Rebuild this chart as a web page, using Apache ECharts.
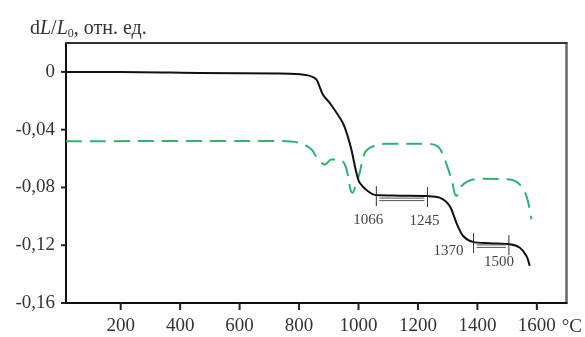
<!DOCTYPE html>
<html>
<head>
<meta charset="utf-8">
<script src="https://cdn.jsdelivr.net/npm/echarts@6/dist/echarts.min.js"></script>
<style>
  html, body { margin: 0; padding: 0; background: #fff; }
  #chart { width: 585px; height: 337px; }
</style>
</head>
<body>
<div id="chart"></div>
<script>
// temperature, °C / relative elongation dL/L0 (black solid curve)
const blackT = [16, 198, 467, 735, 803, 830, 845, 859, 881, 903, 947, 964, 976, 993, 1004, 1032, 1060, 1139, 1229, 1273, 1307, 1329, 1352, 1385, 1441, 1509, 1542, 1565, 1576];
const blackV = [0, 0, -0.0007, -0.0012, -0.0017, -0.0024, -0.0035, -0.0055, -0.016, -0.0214, -0.0352, -0.0448, -0.0538, -0.0699, -0.0768, -0.0826, -0.0853, -0.0857, -0.086, -0.0871, -0.0929, -0.1043, -0.1136, -0.1177, -0.1186, -0.1193, -0.1216, -0.1274, -0.1343];

// green dashed curve
const greenT = [16, 735, 803, 842, 864, 887, 909, 937, 954, 965, 973, 980, 991, 1004, 1021, 1049, 1094, 1229, 1268, 1290, 1313, 1329, 1346, 1368, 1408, 1509, 1542, 1565, 1582];
const greenV = [-0.048, -0.0478, -0.0492, -0.0538, -0.0607, -0.0641, -0.0607, -0.0607, -0.0641, -0.0722, -0.0814, -0.0837, -0.078, -0.0699, -0.0561, -0.0515, -0.0497, -0.0497, -0.0519, -0.0607, -0.0745, -0.086, -0.0791, -0.0757, -0.074, -0.0745, -0.0779, -0.086, -0.102];

// marked temperatures on the black curve
const markT = [1060, 1232, 1387, 1506];
const markV = [-0.0853, -0.086, -0.1177, -0.1193];
const markLabels = ['1066', '1245', '1370', '1500'];

const xRange = [16, 1700];
const yRange = [-0.16, 0.02];
const xTicks = [200, 400, 600, 800, 1000, 1200, 1400, 1600];
const yTicks = [-0.16, -0.12, -0.08, -0.04, 0];

const serif = '"Liberation Serif", "DejaVu Serif", serif';
// label placement around each mark: dx, dy, align
const markLabelPlace = [[-8, 25, 'center'], [-3, 25, 'center'], [-10, 9, 'right'], [-10, 18, 'center']];

const chart = echarts.init(document.getElementById('chart'), null, { renderer: 'canvas' });

// plain frame line for the top / right sides
const frameAxis = (pos, color, width) => ({
  type: 'value', position: pos,
  min: pos === 'top' ? xRange[0] : yRange[0], max: pos === 'top' ? xRange[1] : yRange[1],
  axisLine: { show: true, onZero: false, lineStyle: { color: color, width: width } },
  axisTick: { show: false }, axisLabel: { show: false }, splitLine: { show: false }
});

// tick marks drawn through the axis scales (dx, dy = tick direction in px)
const tickSeries = (data, dx, dy) => ({
  type: 'custom',
  silent: true,
  clip: false,
  data: data,
  renderItem: function (params, api) {
    const p = api.coord([api.value(0), api.value(1)]);
    return { type: 'line', shape: { x1: p[0], y1: p[1], x2: p[0] + dx, y2: p[1] + dy }, style: { stroke: '#222', lineWidth: 2 } };
  },
  z: 6
});

const option = {
  animation: false,
  backgroundColor: '#fff',
  title: {
    left: 25,
    top: 13,
    text: '{n|d}{i|L}{n|/}{i|L}{s|0}{n|, отн. ед.}',
    textStyle: {
      fontWeight: 'normal',
      rich: {
        n: { fontFamily: serif, fontSize: 20, fontWeight: 'normal', color: '#333' },
        i: { fontFamily: serif, fontSize: 20, fontStyle: 'italic', fontWeight: 'normal', color: '#333' },
        s: { fontFamily: serif, fontSize: 12, fontWeight: 'normal', color: '#333', padding: [10, 0, 0, 0] }
      }
    }
  },
  grid: { left: 66, right: 18, top: 43, bottom: 32 },
  xAxis: [{
    type: 'value',
    min: xRange[0], max: xRange[1],
    name: '°C',
    nameLocation: 'end',
    nameGap: -20,
    nameTextStyle: { fontFamily: serif, fontSize: 19, color: '#333', verticalAlign: 'top', align: 'left', padding: [15, 0, 0, 0] },
    axisLine: { onZero: false, lineStyle: { color: '#111', width: 2 } },
    axisTick: { show: false },
    axisLabel: { customValues: xTicks, fontFamily: serif, fontSize: 19, color: '#333', margin: 14, formatter: v => String(v) },
    splitLine: { show: false }
  }, frameAxis('top', '#333', 2)],
  yAxis: [{
    type: 'value',
    min: yRange[0], max: yRange[1],
    axisLine: { show: true, onZero: false, lineStyle: { color: '#111', width: 2 } },
    axisTick: { show: false },
    axisLabel: {
      customValues: yTicks,
      fontFamily: serif, fontSize: 19, color: '#333', margin: 11,
      formatter: v => Math.abs(v) < 1e-9 ? '0' : v.toFixed(2).replace('.', ',')
    },
    splitLine: { show: false }
  }, frameAxis('right', '#666', 2.5)],
  series: [
    {
      type: 'line',
      data: greenT.map((t, i) => [t, greenV[i]]),
      showSymbol: false,
      smooth: 0.35,
      lineStyle: { color: '#2db46e', width: 2, type: [16, 8] }
    },
    {
      type: 'line',
      data: blackT.map((t, i) => [t, blackV[i]]),
      showSymbol: false,
      smooth: 0.3,
      lineStyle: { color: '#111', width: 2 }
    },
    tickSeries(xTicks.map(v => [v, yRange[0]]), 0, 7),
    tickSeries(yTicks.map(v => [xRange[0], v]), -5, 0),
    {
      type: 'custom',
      data: markT.map((t, i) => [t, markV[i]]),
      renderItem: function (params, api) {
        const i = params.dataIndex;
        const p = api.coord([api.value(0), api.value(1)]);
        const place = markLabelPlace[i];
        const children = [
          { type: 'line', shape: { x1: p[0], y1: p[1] - 9, x2: p[0], y2: p[1] + 11 }, style: { stroke: '#333', lineWidth: 1 } },
          {
            type: 'text',
            style: {
              x: p[0] + place[0], y: p[1] + place[1],
              text: markLabels[i], align: place[2], verticalAlign: 'middle',
              font: '15px ' + serif, fill: '#444'
            }
          }
        ];
        if (i % 2 === 0) {
          const q = api.coord([markT[i + 1], markV[i + 1]]);
          [3, 5.5].forEach(d => {
            children.push({ type: 'line', shape: { x1: p[0] + 3, y1: p[1] + d, x2: q[0] - 3, y2: p[1] + d }, style: { stroke: '#555', lineWidth: 1 } });
          });
        }
        return { type: 'group', children: children };
      },
      z: 5
    }
  ]
};

chart.setOption(option);
</script>
</body>
</html>
